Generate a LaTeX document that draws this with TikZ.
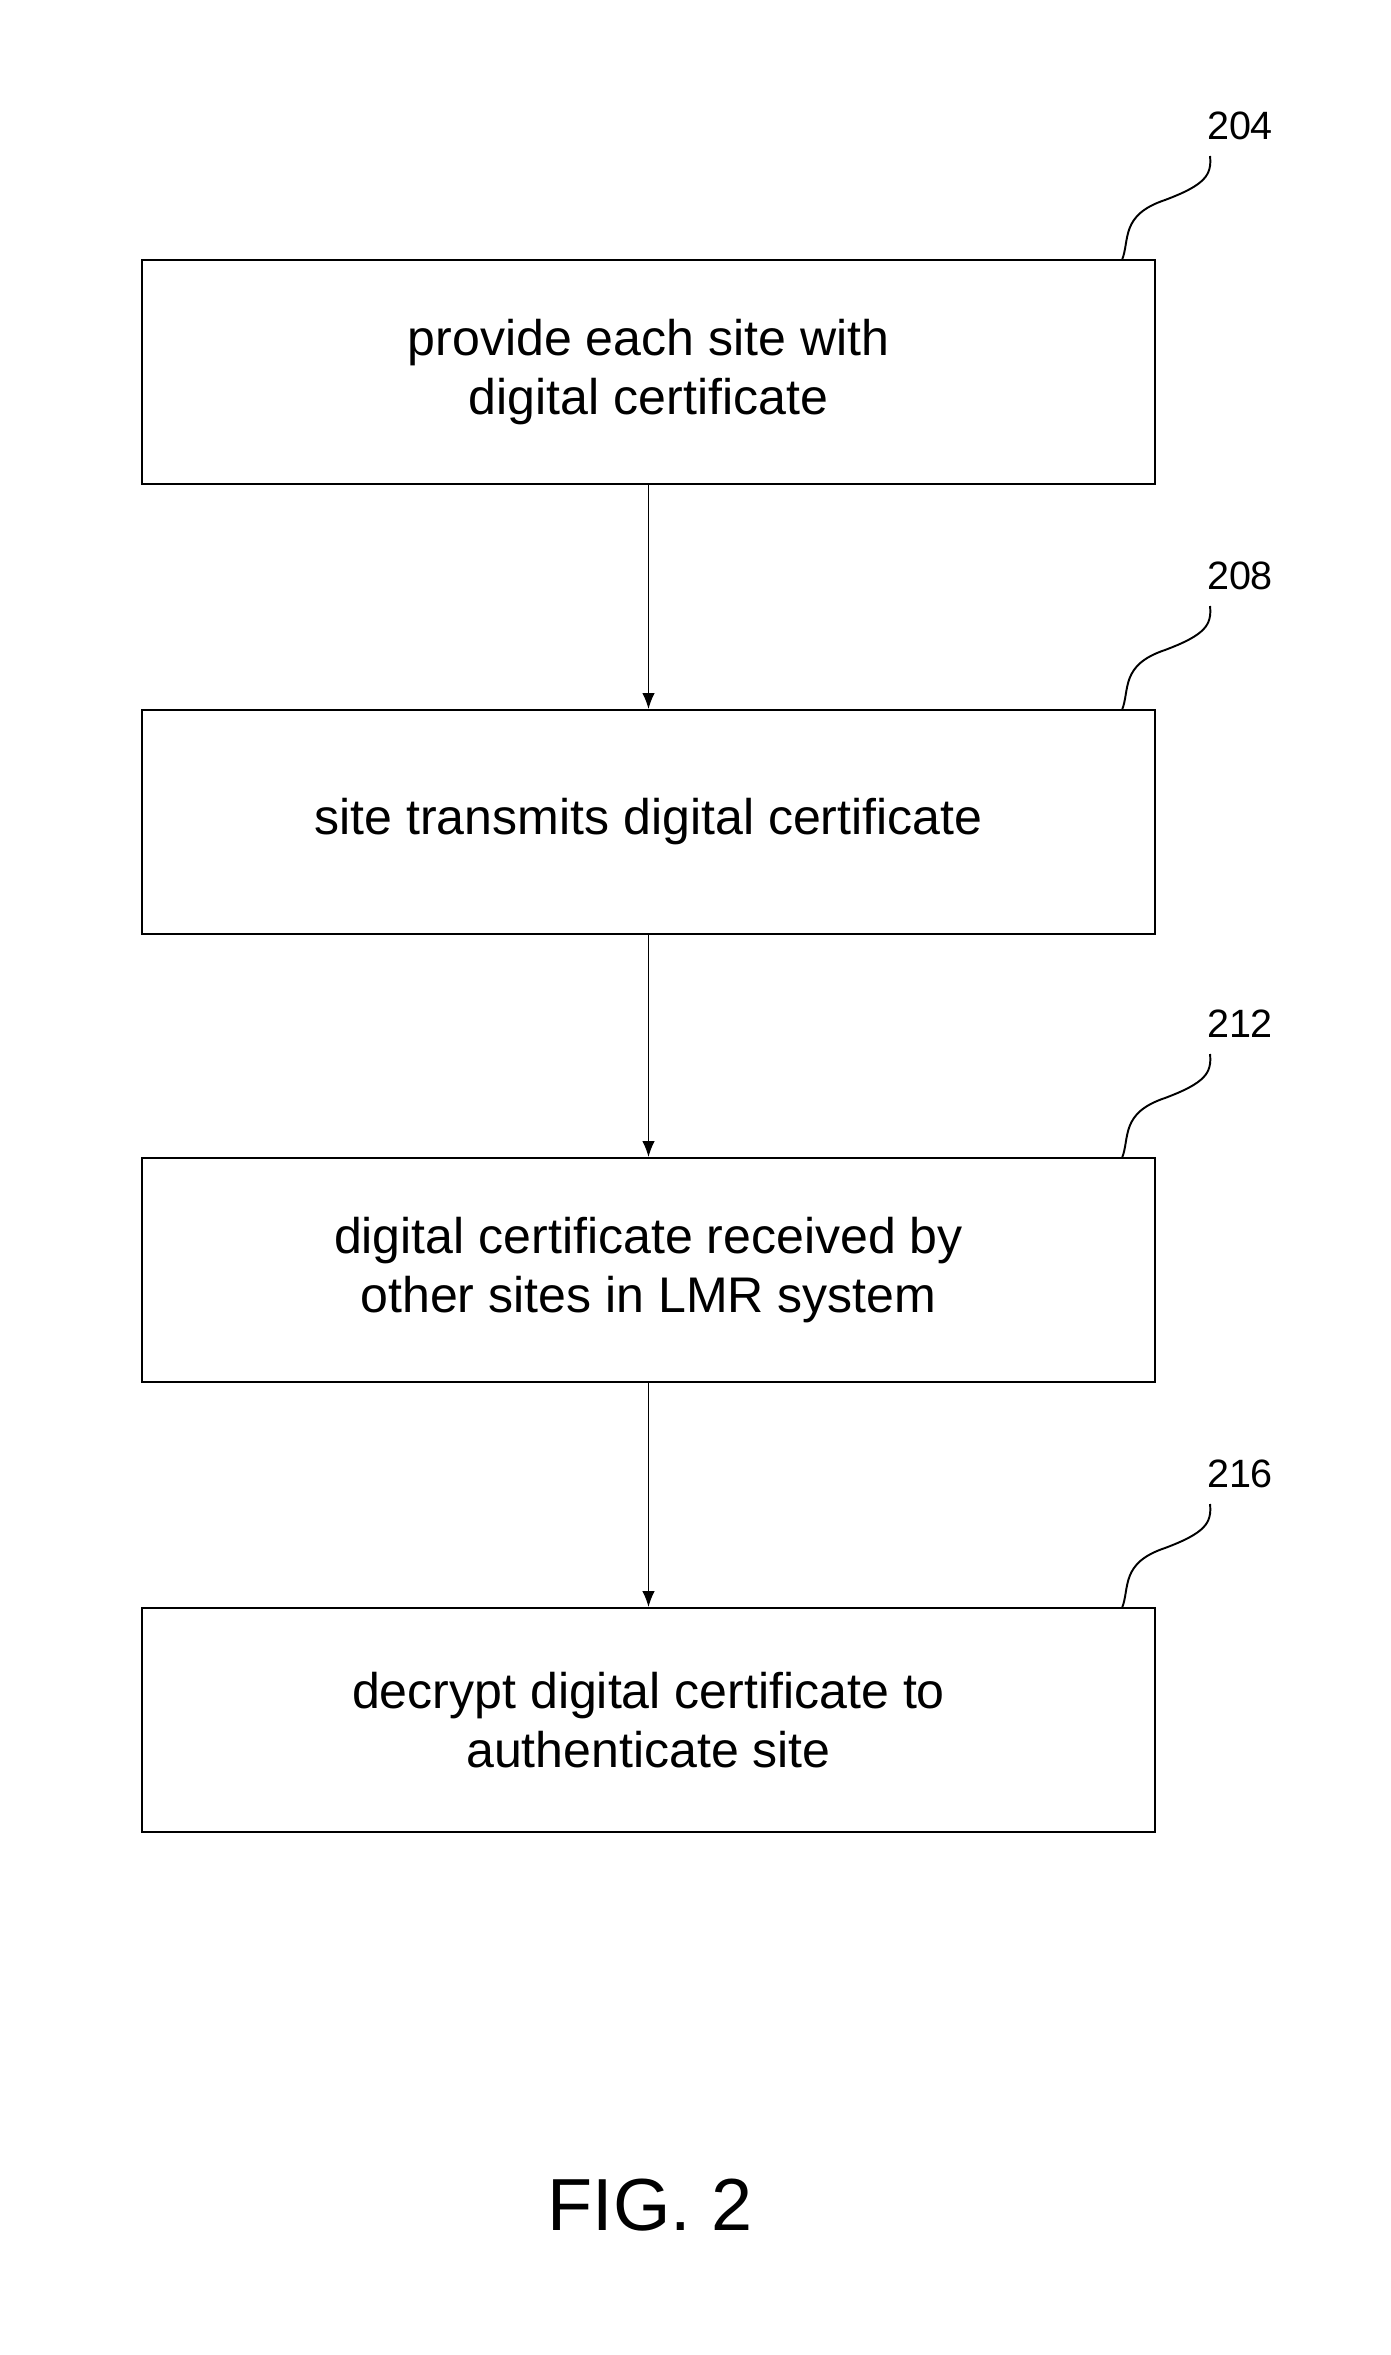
\documentclass[tikz,border=0pt]{standalone}
\usepackage{fontspec}
\setmainfont{Liberation Sans}
\usetikzlibrary{arrows.meta}
\begin{document}
\begin{tikzpicture}[x=0.02cm,y=-0.02cm,
 box/.style={draw,line width=1.2pt,minimum width=1013*0.02cm,minimum height=224*0.02cm,align=center,font=\fontsize{28.5}{34}\selectfont,inner sep=0},
 arr/.style={-{Latex[length=9pt,width=7pt]},line width=0.6pt},
 ref/.style={font=\fontsize{22.5}{26}\selectfont},
 lead/.style={line width=1.1pt}]
\useasboundingbox (0,0) rectangle (1391,2355);
\node[box] (b1) at (648.5,372) {provide each site with\\digital certificate};
\node[box] (b2) at (648.5,822) {site transmits digital certificate};
\node[box] (b3) at (648.5,1270) {digital certificate received by\\other sites in LMR system};
\node[box] (b4) at (648.5,1720) {decrypt digital certificate to\\authenticate site};
\draw[arr] (b1) -- (b2);
\draw[arr] (b2) -- (b3);
\draw[arr] (b3) -- (b4);
\foreach \n/\y/\t in {b1/260/204,b2/710/208,b3/1158/212,b4/1608/216}{
  \coordinate (s\n) at (1122,\y);
  \coordinate (e\n) at (1210,\y-104);
  \draw[lead] (s\n) .. controls (1130,\y-20) and (1120,\y-45) .. (1165,\y-60) .. controls (1205,\y-75) and (1212,\y-85) .. (e\n);
  \node[ref,anchor=south] (l\n) at (1240,\y-114) {\t};
}
\node[font=\fontsize{42}{46}\selectfont] (fig) at (650,2205) {FIG. 2};
\end{tikzpicture}
\end{document}
